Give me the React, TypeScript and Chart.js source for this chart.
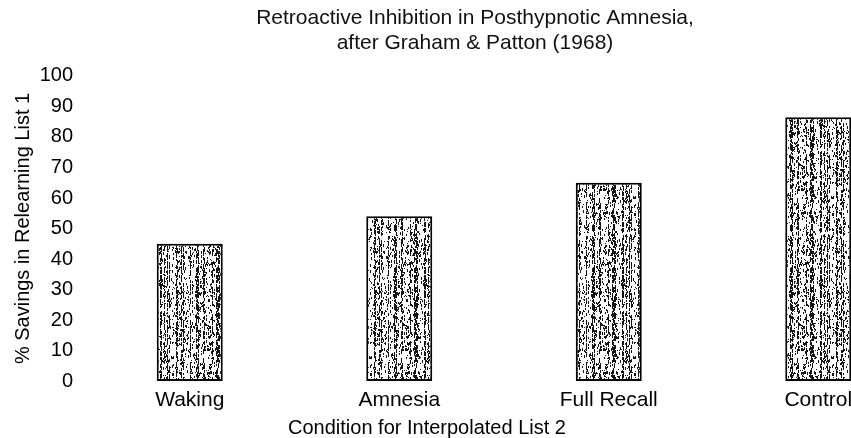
import React, { useEffect, useRef } from "react";
import { Chart, registerables } from "chart.js";

Chart.register(...registerables);

const categories = ["Waking", "Amnesia", "Full Recall", "Control"];
const savings = [45, 54, 65, 86.5];
const yTicks = [0, 10, 20, 30, 40, 50, 60, 70, 80, 90, 100];
const titleLines = ["Retroactive Inhibition in Posthypnotic Amnesia,", "after Graham & Patton (1968)"];
const yTitle = "% Savings in Relearning List 1";
const xTitle = "Condition for Interpolated List 2";

const FONT = '"Liberation Sans", Arial, Helvetica, sans-serif';

function makeStipple(ctx: CanvasRenderingContext2D): CanvasPattern | string {
  const c = document.createElement("canvas");
  c.width = 66;
  c.height = 160;
  const g = c.getContext("2d");
  if (!g) return "#999";
  g.fillStyle = "#ffffff";
  g.fillRect(0, 0, c.width, c.height);
  let s = 20240611;
  const rnd = () => {
    s = (s * 1103515245 + 12345) & 0x7fffffff;
    return s / 0x7fffffff;
  };
  g.fillStyle = "#141414";
  for (let x = 0; x < c.width; x++) {
    const streak = rnd() < 0.35;
    const dens = streak ? 0.5 + 0.2 * rnd() : 0.12 + 0.15 * rnd();
    let y = 0;
    while (y < c.height) {
      if (rnd() < dens) {
        const len = streak ? 2 + Math.floor(rnd() * 7) : 1 + Math.floor(rnd() * 3);
        g.fillRect(x, y, 1, len);
        y += len + 1;
      } else {
        y += 1 + Math.floor(rnd() * 3);
      }
    }
  }
  return ctx.createPattern(c, "repeat") || "#999";
}

const xTitlePlugin = {
  id: "xTitleText",
  afterDraw(chart: any) {
    const ctx = chart.ctx as CanvasRenderingContext2D;
    ctx.save();
    ctx.font = `20px ${FONT}`;
    ctx.fillStyle = "#000";
    ctx.textAlign = "center";
    ctx.textBaseline = "middle";
    ctx.fillText(xTitle, 427, chart.chartArea.bottom + 47);
    ctx.restore();
  },
};

export default function App() {
  const ref = useRef<HTMLCanvasElement | null>(null);

  useEffect(() => {
    const canvas = ref.current;
    if (!canvas) return;
    const ctx = canvas.getContext("2d");
    if (!ctx) return;
    const stipple = makeStipple(ctx);
    const chart = new Chart(ctx, {
      type: "bar",
      data: {
        labels: categories,
        datasets: [
          {
            data: savings,
            backgroundColor: stipple as any,
            borderColor: "#000",
            borderWidth: 2,
            borderSkipped: false,
            barPercentage: 0.315,
            categoryPercentage: 1,
          },
        ],
      },
      options: {
        animation: false,
        responsive: false,
        layout: { padding: 0 },
        plugins: {
          legend: { display: false },
          tooltip: { enabled: false },
          title: {
            display: true,
            text: titleLines,
            color: "#111",
            font: { family: FONT, size: 21, weight: "normal", lineHeight: 1.19 },
            padding: { top: 6, bottom: 20 },
          },
        },
        scales: {
          x: {
            grid: { display: false, drawTicks: false },
            border: { display: false },
            ticks: { color: "#000", font: { family: FONT, size: 21 }, padding: 7 },
            afterFit: (s: any) => {
              s.height = 57;
            },
          },
          y: {
            min: 0,
            max: 100,
            afterBuildTicks: (s: any) => {
              s.ticks = yTicks.map((v) => ({ value: v }));
            },
            grid: { display: false, drawTicks: false },
            border: { display: false },
            ticks: { color: "#000", font: { family: FONT, size: 20 }, padding: 12 },
            title: {
              display: true,
              text: yTitle,
              color: "#000",
              font: { family: FONT, size: 20 },
              padding: { top: 11, bottom: 0 },
            },
            afterFit: (s: any) => {
              s.width = 85;
            },
          },
          y2: {
            type: "linear",
            position: "right",
            display: true,
            grid: { display: false, drawTicks: false },
            border: { display: false },
            ticks: { display: false },
            afterFit: (s: any) => {
              s.width = 27;
            },
          },
        },
      },
      plugins: [xTitlePlugin],
    });
    return () => chart.destroy();
  }, []);

  return (
    <div
      style={{
        position: "absolute",
        left: 0,
        top: 0,
        width: 851,
        height: 438,
        overflow: "hidden",
        background: "#fff",
      }}
    >
      <canvas ref={ref} width={950} height={438} style={{ display: "block" }} />
    </div>
  );
}
